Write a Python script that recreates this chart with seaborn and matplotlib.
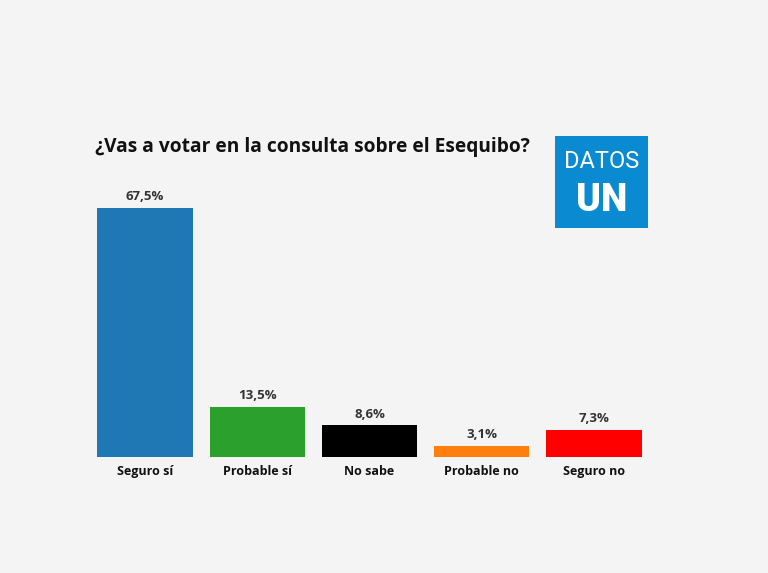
import pandas as pd
import seaborn as sns
import matplotlib.pyplot as plt
from matplotlib.patches import Rectangle

categories = ["Seguro sí", "Probable sí", "No sabe", "Probable no", "Seguro no"]
values = [67.5, 13.5, 8.6, 3.1, 7.3]
labels = ["67,5%", "13,5%", "8,6%", "3,1%", "7,3%"]
colors = ["#1f77b4", "#2ca02c", "#000000", "#ff7f0e", "#ff0000"]

df = pd.DataFrame({"respuesta": categories, "pct": values})

sns.set_style("white")
plt.rcParams['font.family'] = ['Open Sans', 'DejaVu Sans']

bg = "#f4f4f4"
fig = plt.figure(figsize=(7.68, 5.73), dpi=100, facecolor=bg)
ax = fig.add_axes([0.1159, 0.2024, 0.7305, 0.5148], facecolor=bg)

sns.barplot(data=df, x="respuesta", y="pct", hue="respuesta", palette=colors,
            legend=False, width=0.85, saturation=1, linewidth=0, ax=ax)
ax.set_xlim(-0.5, 4.5)
ax.set_ylim(0, 80)

for i, (v, lab) in enumerate(zip(values, labels)):
    ax.text(i, v + 1.3, lab, ha="center", va="bottom", fontsize=9.5,
            fontweight="bold", color="#333333")

ax.set_xlabel("")
ax.set_ylabel("")
ax.set_yticks([])
ax.tick_params(axis="x", length=0, pad=6)
for t in ax.get_xticklabels():
    t.set_fontweight("bold")
    t.set_fontsize(9)
    t.set_color("#111111")
sns.despine(ax=ax, left=True, bottom=True)

fig.text(95 / 768, 1 - 147 / 573, "¿Vas a votar en la consulta sobre el Esequibo?",
         ha="left", va="center", fontsize=13.8, fontweight="bold", color="#111111")

# logo
logo = fig.add_axes([555 / 768, 1 - 228 / 573, 93 / 768, 92 / 573])
logo.set_xlim(0, 1)
logo.set_ylim(0, 1)
logo.axis("off")
logo.add_patch(Rectangle((0, 0), 1, 1, color="#0a8ad0"))
logo.text(0.5, 0.72, "DATOS", ha="center", va="center", color="white",
          fontsize=17, fontweight="normal", family=["Roboto", "DejaVu Sans"])
logo.text(0.5, 0.3, "UN", ha="center", va="center", color="white",
          fontsize=27, fontweight="heavy", family=["Roboto", "DejaVu Sans"])

fig.savefig("out.png", dpi=100, facecolor=bg)
